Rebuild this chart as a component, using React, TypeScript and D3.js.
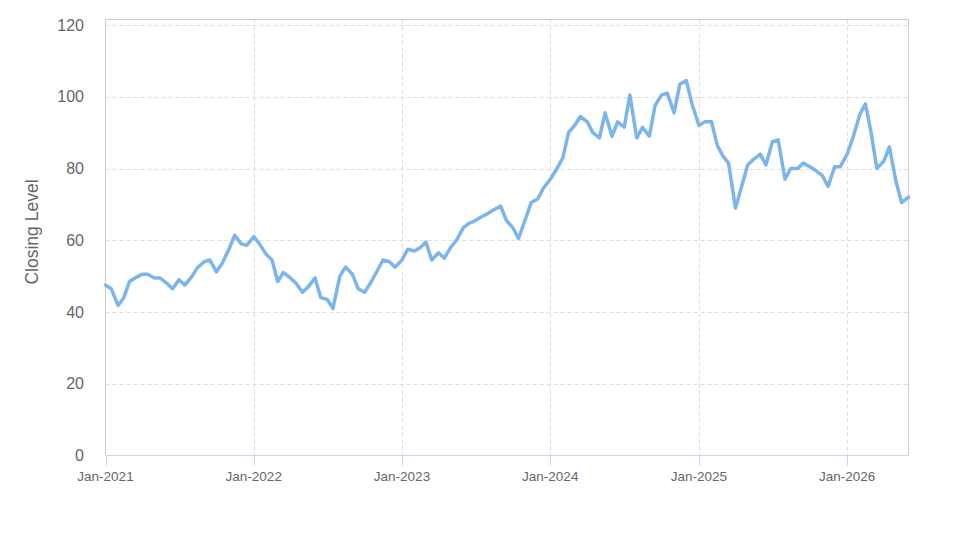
import React, { useEffect, useRef } from "react";
import * as d3 from "d3";

// semi-monthly closing levels, Jan 2021 .. Jun 2026
const closingLevels = [
  47.5, 46.5, 41.8, 44.0, 48.5, 49.5, 50.5, 50.5, 49.5, 49.5, 48.0, 46.5,
  49.0, 47.5, 49.8, 52.3, 54.0, 54.5, 51.2, 53.5, 57.5, 61.4, 59.0, 58.6,
  61.0, 59.0, 56.0, 54.5, 48.5, 51.0, 49.5, 48.0, 45.5, 47.0, 49.5, 44.0,
  43.5, 41.0, 50.0, 52.5, 50.5, 46.5, 45.5, 48.0, 51.5, 54.5, 54.0, 52.5,
  54.5, 57.5, 57.0, 58.0, 59.5, 54.5, 56.5, 55.0, 58.0, 60.0, 63.5, 64.7,
  65.5, 66.5, 67.5, 68.5, 69.5, 65.5, 63.5, 60.5, 66.0, 70.5, 71.5, 74.5,
  77.0, 79.5, 83.0, 90.0, 92.0, 94.5, 93.0, 90.0, 88.5, 95.5, 89.0, 93.0,
  91.5, 100.5, 88.5, 91.5, 89.0, 97.5, 100.5, 101.0, 95.5, 103.5, 104.5, 98.0,
  92.0, 93.0, 93.0, 86.5, 83.5, 81.5, 69.0, 74.5, 81.0, 82.5, 84.0, 81.0,
  87.5, 88.0, 77.0, 80.0, 80.0, 81.5, 80.5, 79.5, 78.0, 75.0, 80.5, 80.5,
  84.0, 88.5, 95.0, 98.0, 90.0, 80.0, 82.0, 86.0, 76.5, 70.5, 72.0,
];

const startDate = new Date(2021, 0, 1);
const dates = closingLevels.map((_, i) => {
  const d = d3.timeMonth.offset(startDate, Math.floor(i / 2));
  return i % 2 ? d3.timeDay.offset(d, 14) : d;
});

const yTicks = [0, 20, 40, 60, 80, 100, 120];
const xTickYears = [2021, 2022, 2023, 2024, 2025, 2026];
const yAxisTitle = "Closing Level";

const App = () => {
  const svgRef = useRef<SVGSVGElement>(null);

  useEffect(() => {
    const width = 974;
    const height = 547;
    const left = 105.5;
    const right = 908.5;
    const top = 19.5;
    const bottom = 455.5;

    const svg = d3.select(svgRef.current);
    svg.selectAll("*").remove();

    const x = d3
      .scaleTime()
      .domain([startDate, dates[dates.length - 1]])
      .range([left, right]);
    const y = d3.scaleLinear().domain([0, 120]).range([bottom, 25]);

    const font = "'Liberation Sans', Arial, sans-serif";
    const xTicks = xTickYears.map((yr) => new Date(yr, 0, 1));

    // gridlines
    svg
      .append("g")
      .selectAll("line")
      .data(yTicks.filter((t) => t > 0))
      .enter()
      .append("line")
      .attr("x1", left)
      .attr("x2", right)
      .attr("y1", (d) => Math.round(y(d)) + 0.5)
      .attr("y2", (d) => Math.round(y(d)) + 0.5)
      .attr("stroke", "#dddddd")
      .attr("stroke-dasharray", "4,3");

    svg
      .append("g")
      .selectAll("line")
      .data(xTicks.slice(1))
      .enter()
      .append("line")
      .attr("x1", (d) => Math.round(x(d)) + 0.5)
      .attr("x2", (d) => Math.round(x(d)) + 0.5)
      .attr("y1", top)
      .attr("y2", bottom)
      .attr("stroke", "#dddddd")
      .attr("stroke-dasharray", "4,3");

    // frame
    svg
      .append("path")
      .attr("d", `M${left},${bottom}V${top}H${right}V${bottom}`)
      .attr("fill", "none")
      .attr("stroke", "#cccccc");

    // x axis line and ticks
    svg
      .append("line")
      .attr("x1", left)
      .attr("x2", right)
      .attr("y1", bottom)
      .attr("y2", bottom)
      .attr("stroke", "#ccd6eb");

    svg
      .append("g")
      .selectAll("line")
      .data(xTicks)
      .enter()
      .append("line")
      .attr("x1", (d) => Math.round(x(d)) + 0.5)
      .attr("x2", (d) => Math.round(x(d)) + 0.5)
      .attr("y1", bottom)
      .attr("y2", bottom + 10)
      .attr("stroke", "#ccd6eb");

    svg
      .append("g")
      .selectAll("text")
      .data(xTicks)
      .enter()
      .append("text")
      .attr("x", (d) => x(d))
      .attr("y", 481)
      .attr("text-anchor", "middle")
      .style("font-family", font)
      .style("font-size", "13.5px")
      .attr("fill", "#666666")
      .text((d) => d3.timeFormat("%b-%Y")(d));

    svg
      .append("g")
      .selectAll("text")
      .data(yTicks)
      .enter()
      .append("text")
      .attr("x", 84)
      .attr("y", (d) => y(d) + 5.5)
      .attr("text-anchor", "end")
      .style("font-family", font)
      .style("font-size", "16px")
      .attr("fill", "#666666")
      .text((d) => d);

    svg
      .append("text")
      .attr("transform", `translate(38, 232) rotate(-90)`)
      .attr("text-anchor", "middle")
      .style("font-family", font)
      .style("font-size", "17.5px")
      .attr("fill", "#666666")
      .text(yAxisTitle);

    // the series
    const line = d3
      .line<number>()
      .x((_, i) => x(dates[i]))
      .y((d) => y(d));

    svg
      .append("path")
      .datum(closingLevels)
      .attr("d", line)
      .attr("fill", "none")
      .attr("stroke", "#7cb5ec")
      .attr("stroke-width", 3.5)
      .attr("stroke-linejoin", "round")
      .attr("stroke-linecap", "round");

    svg.attr("width", width).attr("height", height);
  }, []);

  return (
    <svg
      ref={svgRef}
      style={{ position: "absolute", left: 0, top: 0, background: "#fff" }}
    ></svg>
  );
};

export default App;
